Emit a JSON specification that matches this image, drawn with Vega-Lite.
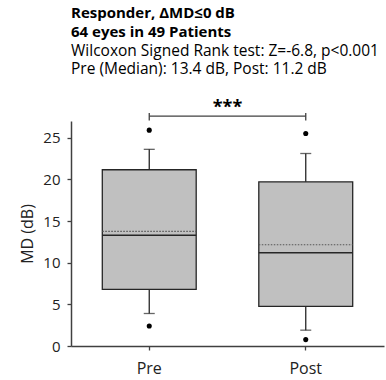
{
  "$schema": "https://vega.github.io/schema/vega-lite/v6.json",
  "width": 313,
  "height": 225,
  "autosize": {"type": "none"},
  "padding": {"left": 71, "top": 121, "right": 2, "bottom": 34},
  "background": "white",
  "config": {"view": {"stroke": null}, "font": "Open Sans"},
  "title": {
    "text": ["Responder, ΔMD≤0 dB", "64 eyes in 49 Patients"],
    "subtitle": ["Wilcoxon Signed Rank test: Z=-6.8, p<0.001", "Pre (Median): 13.4 dB, Post: 11.2 dB"],
    "anchor": "start",
    "frame": "group",
    "font": "Open Sans",
    "fontSize": 15,
    "fontWeight": "bold",
    "color": "#000000",
    "lineHeight": 19,
    "subtitleFont": "Open Sans",
    "subtitleFontSize": 15.5,
    "subtitleColor": "#000000",
    "subtitleLineHeight": 18,
    "subtitlePadding": 4,
    "offset": 22
  },
  "datasets": {
    "boxes": [
      {"group": "Pre", "low": 3.9, "q1": 6.8, "median": 13.3, "mean": 13.75, "q3": 21.15, "high": 23.6},
      {"group": "Post", "low": 1.9, "q1": 4.76, "median": 11.2, "mean": 12.15, "q3": 19.7, "high": 23.1}
    ],
    "outliers": [
      {"group": "Pre", "value": 25.9},
      {"group": "Pre", "value": 2.4},
      {"group": "Post", "value": 25.5},
      {"group": "Post", "value": 0.77}
    ],
    "bracket": [
      {"from": "Pre", "to": "Post", "level": 27.58, "top": 27.95, "bottom": 27.05, "label": "***", "labelLevel": 28.55}
    ]
  },
  "layer": [
    {
      "data": {"name": "boxes"},
      "mark": {"type": "rule", "color": "#262626", "strokeWidth": 1.3},
      "encoding": {
        "x": {"field": "group", "type": "nominal", "sort": ["Pre", "Post"],
          "scale": {"domain": ["Pre", "Post"], "paddingInner": 0, "paddingOuter": 0},
          "axis": {"title": null, "labelAngle": 0, "labelFontSize": 16, "labelColor": "#222222", "labelFont": "Open Sans",
            "domainColor": "#404040", "domainWidth": 1.5, "tickColor": "#404040", "tickWidth": 1.3, "tickSize": 4, "labelPadding": 10}},
        "y": {"field": "low", "type": "quantitative",
          "scale": {"domain": [0, 27], "nice": false, "zero": true},
          "axis": {"title": "MD (dB)", "titleFontSize": 16, "titleFontWeight": "normal", "titleColor": "#222222", "titleFont": "Open Sans",
            "values": [0, 5, 10, 15, 20, 25], "grid": false, "labelFontSize": 15, "labelColor": "#222222", "labelFont": "Open Sans",
            "domainColor": "#404040", "domainWidth": 1.5, "tickColor": "#404040", "tickWidth": 1.3, "tickSize": 4, "labelPadding": 7, "titlePadding": 7}},
        "y2": {"field": "high"}
      }
    },
    {
      "data": {"name": "boxes"},
      "mark": {"type": "bar", "width": {"band": 0.6}, "fill": "#c0c0c0", "stroke": "#262626", "strokeWidth": 1.3},
      "encoding": {
        "x": {"field": "group", "type": "nominal", "sort": ["Pre", "Post"]},
        "y": {"field": "q1", "type": "quantitative"},
        "y2": {"field": "q3"}
      }
    },
    {
      "data": {"name": "boxes"},
      "mark": {"type": "tick", "color": "#262626", "size": 11, "thickness": 1.3},
      "encoding": {
        "x": {"field": "group", "type": "nominal", "sort": ["Pre", "Post"]},
        "y": {"field": "low", "type": "quantitative"}
      }
    },
    {
      "data": {"name": "boxes"},
      "mark": {"type": "tick", "color": "#262626", "size": 11, "thickness": 1.3},
      "encoding": {
        "x": {"field": "group", "type": "nominal", "sort": ["Pre", "Post"]},
        "y": {"field": "high", "type": "quantitative"}
      }
    },
    {
      "data": {"name": "boxes"},
      "mark": {"type": "rule", "color": "#262626", "strokeWidth": 1.5},
      "encoding": {
        "x": {"field": "group", "type": "nominal", "bandPosition": 0.2},
        "x2": {"field": "group", "bandPosition": 0.8},
        "y": {"field": "median", "type": "quantitative"}
      }
    },
    {
      "data": {"name": "boxes"},
      "mark": {"type": "rule", "color": "#555555", "strokeWidth": 1.2, "strokeDash": [1.5, 1.5]},
      "encoding": {
        "x": {"field": "group", "type": "nominal", "bandPosition": 0.2},
        "x2": {"field": "group", "bandPosition": 0.8},
        "y": {"field": "mean", "type": "quantitative"}
      }
    },
    {
      "data": {"name": "outliers"},
      "mark": {"type": "point", "filled": true, "color": "#000000", "size": 26, "opacity": 1},
      "encoding": {
        "x": {"field": "group", "type": "nominal", "sort": ["Pre", "Post"]},
        "y": {"field": "value", "type": "quantitative"}
      }
    },
    {
      "data": {"name": "bracket"},
      "mark": {"type": "rule", "color": "#404040", "strokeWidth": 1.3, "clip": false},
      "encoding": {
        "x": {"field": "from", "type": "nominal"},
        "x2": {"field": "to"},
        "y": {"field": "level", "type": "quantitative"}
      }
    },
    {
      "data": {"name": "bracket"},
      "mark": {"type": "rule", "color": "#404040", "strokeWidth": 1.3, "clip": false},
      "encoding": {
        "x": {"field": "from", "type": "nominal"},
        "y": {"field": "top", "type": "quantitative"},
        "y2": {"field": "bottom"}
      }
    },
    {
      "data": {"name": "bracket"},
      "mark": {"type": "rule", "color": "#404040", "strokeWidth": 1.3, "clip": false},
      "encoding": {
        "x": {"field": "to", "type": "nominal"},
        "y": {"field": "top", "type": "quantitative"},
        "y2": {"field": "bottom"}
      }
    },
    {
      "data": {"name": "bracket"},
      "mark": {"type": "text", "fontSize": 18, "fontWeight": "bold", "font": "Open Sans", "color": "#000000", "baseline": "middle", "clip": false},
      "encoding": {
        "x": {"field": "from", "type": "nominal", "bandPosition": 1},
        "y": {"field": "labelLevel", "type": "quantitative"},
        "text": {"field": "label"}
      }
    }
  ]
}
